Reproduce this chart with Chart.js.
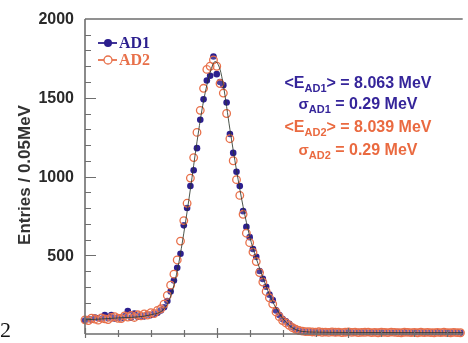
<!DOCTYPE html>
<html>
<head>
<meta charset="utf-8">
<script src="https://cdn.jsdelivr.net/npm/chart.js@4.4.1/dist/chart.umd.min.js"></script>
<style>
html, body { margin: 0; padding: 0; background: #fff; }
#wrap { position: relative; width: 468px; height: 343px; }
</style>
</head>
<body>
<div id="wrap"><canvas id="c"></canvas></div>
<script>
// energy bins: 0.05 MeV wide starting at 6 MeV
const binStart = 6.0;
const binWidth = 0.05;

const ad1Counts = [
  85, 95, 90, 105, 100, 95, 120, 100, 120, 98,
  105, 100, 112, 145, 104, 130, 110, 118, 112, 125,
  120, 128, 135, 150, 170, 210, 270, 340, 420, 510,
  690, 800, 940, 1040, 1180, 1360, 1490, 1610, 1640, 1762,
  1650, 1600, 1580, 1470, 1270, 1150, 1030, 940, 780, 680,
  615, 540, 490, 400, 350, 300, 250, 215, 150, 120,
  95, 80, 65, 45, 28, 20, 16, 14,
  14, 12, 15, 11, 13, 10, 12, 14, 9, 11,
  13, 10, 12, 11, 9, 13, 10, 12, 8, 11,
  10, 12, 9, 10, 11, 8, 10, 12, 9, 11,
  10, 8, 9, 11, 10, 9, 8, 10, 9, 11,
  8, 9, 10, 8, 9, 10, 8
];

const ad2Counts = [
  90, 85, 100, 95, 88, 102, 96, 92, 105, 110,
  100, 98, 115, 108, 118, 105, 122, 115, 128, 120,
  135, 130, 150, 160, 190, 245, 310, 380, 470, 590,
  720, 830, 990, 1120, 1280, 1420, 1560, 1680, 1700, 1740,
  1700, 1590, 1530, 1400, 1240, 1100, 980, 880, 760, 640,
  580, 520, 460, 390, 330, 270, 230, 190, 140, 110,
  85, 70, 55, 40, 30, 22, 18, 15,
  15, 13, 12, 14, 11, 12, 10, 13, 11, 12,
  9, 11, 13, 10, 12, 9, 10, 11, 12, 9,
  10, 8, 11, 10, 9, 12, 10, 9, 8, 11,
  10, 9, 10, 8, 11, 9, 10, 9, 8, 10,
  9, 11, 9, 8, 10, 9, 8
];

// fitted curve drawn through both spectra
const fitEnergy = [6.0, 6.5, 7.0, 7.2, 7.3, 7.4, 7.5, 7.6, 7.7, 7.8, 7.9, 7.975, 8.05, 8.1, 8.2, 8.3, 8.4, 8.5, 8.6, 8.7, 8.8, 8.9, 9.0, 9.1, 9.2, 9.3, 9.5, 10.0, 11.0, 11.8];
const fitCounts = [90, 102, 122, 160, 240, 400, 640, 920, 1220, 1480, 1660, 1730, 1680, 1580, 1300, 1040, 810, 620, 480, 360, 250, 165, 100, 55, 28, 16, 12, 10, 9, 9];

const yTickLabels = [500, 1000, 1500, 2000];
const yMinorTicks = [100, 200, 300, 400, 500, 600, 700, 800, 900, 1000, 1100, 1200, 1300, 1400, 1500, 1600, 1700, 1800, 1900];
const xTicks = [6, 6.5, 7, 7.5, 8, 8.5, 9, 9.5, 10, 10.5, 11, 11.5];
const xMajorTicks = [6, 8, 10];

const blue = '#2c1f8e';
const orange = '#e8704a';
const blueText = '#35259a';
const orangeText = '#ea6a40';

function toPoints(counts) {
  return counts.map((v, i) => ({ x: binStart + i * binWidth, y: v }));
}

// draws a run of text pieces, some of them as subscripts, centred on cx
function drawRich(ctx, pieces, cx, baseline, color) {
  ctx.fillStyle = color;
  ctx.textBaseline = 'alphabetic';
  ctx.textAlign = 'left';
  let total = 0;
  pieces.forEach(p => {
    ctx.font = 'bold ' + p.size + 'px "Liberation Sans", Arial, sans-serif';
    p.w = ctx.measureText(p.t).width;
    total += p.w;
  });
  let x = cx - total / 2;
  pieces.forEach(p => {
    ctx.font = 'bold ' + p.size + 'px "Liberation Sans", Arial, sans-serif';
    ctx.fillText(p.t, x, baseline + (p.dy || 0));
    x += p.w;
  });
}

const decorations = {
  id: 'decorations',
  afterDatasetsDraw(chart) {
    const { ctx, chartArea: a, scales: { x, y } } = chart;
    ctx.save();
    ctx.strokeStyle = '#6e6e6e';
    ctx.lineWidth = 1.6;
    ctx.beginPath();
    ctx.moveTo(a.left, a.top); ctx.lineTo(a.right, a.top);
    ctx.moveTo(a.left, a.top); ctx.lineTo(a.left, a.bottom);
    ctx.moveTo(a.left, a.bottom); ctx.lineTo(a.right, a.bottom);
    ctx.stroke();

    ctx.lineWidth = 1.2;
    ctx.beginPath();
    yMinorTicks.forEach(v => {
      const py = Math.round(y.getPixelForValue(v)) + 0.5;
      const len = v % 500 === 0 ? 11 : 6;
      ctx.moveTo(a.left, py); ctx.lineTo(a.left + len, py);
    });
    xTicks.forEach(v => {
      const px = Math.round(x.getPixelForValue(v)) + 0.5;
      const major = xMajorTicks.includes(v);
      ctx.moveTo(px, a.bottom - (major ? 6 : 4));
      ctx.lineTo(px, a.bottom + (major ? 4 : 3));
    });
    ctx.stroke();

    // y tick labels
    ctx.fillStyle = '#2a2a2a';
    ctx.font = 'bold 16px "Liberation Sans", Arial, sans-serif';
    ctx.textAlign = 'right';
    ctx.textBaseline = 'middle';
    yTickLabels.forEach(v => {
      ctx.fillText(String(v), a.left - 11, y.getPixelForValue(v) + 1);
    });
    ctx.restore();
  },
  afterDraw(chart) {
    const { ctx } = chart;
    ctx.save();

    // y axis title
    ctx.save();
    ctx.translate(25, 175);
    ctx.rotate(-Math.PI / 2);
    ctx.fillStyle = '#333';
    ctx.font = 'bold 17px "Liberation Sans", Arial, sans-serif';
    ctx.textAlign = 'center';
    ctx.textBaseline = 'middle';
    ctx.fillText('Entries / 0.05MeV', 0, 0);
    ctx.restore();

    // legend
    const legend = [
      { label: 'AD1', color: blue, y: 43, filled: true },
      { label: 'AD2', color: orange, y: 60, filled: false }
    ];
    legend.forEach(l => {
      ctx.strokeStyle = l.color;
      ctx.lineWidth = 1.8;
      ctx.beginPath();
      ctx.moveTo(98, l.y); ctx.lineTo(117, l.y);
      ctx.stroke();
      ctx.beginPath();
      ctx.arc(108, l.y, 4, 0, Math.PI * 2);
      if (l.filled) { ctx.fillStyle = l.color; ctx.fill(); }
      else { ctx.fillStyle = '#fff'; ctx.fill(); ctx.lineWidth = 1.3; ctx.stroke(); }
      ctx.fillStyle = l.color;
      ctx.font = 'bold 16px "Liberation Serif", "Times New Roman", serif';
      ctx.textAlign = 'left';
      ctx.textBaseline = 'middle';
      ctx.fillText(l.label, 119, l.y + 1);
    });

    // fit results
    drawRich(ctx, [{ t: '<E', size: 16 }, { t: 'AD1', size: 11, dy: 4 }, { t: '> = 8.063 MeV', size: 16 }], 358, 88, blueText);
    drawRich(ctx, [{ t: 'σ', size: 15 }, { t: 'AD1', size: 11, dy: 4 }, { t: ' = 0.29 MeV', size: 16 }], 358, 109, blueText);
    drawRich(ctx, [{ t: '<E', size: 16 }, { t: 'AD2', size: 11, dy: 4 }, { t: '> = 8.039 MeV', size: 16 }], 358, 132, orangeText);
    drawRich(ctx, [{ t: 'σ', size: 15 }, { t: 'AD2', size: 11, dy: 4 }, { t: ' = 0.29 MeV', size: 16 }], 358, 155, orangeText);

    // stray page number at the lower left
    ctx.fillStyle = '#111';
    ctx.font = '22px "Liberation Serif", "Times New Roman", serif';
    ctx.textAlign = 'left';
    ctx.textBaseline = 'alphabetic';
    ctx.fillText('2', 0, 337);

    ctx.restore();
  }
};

new Chart(document.getElementById('c'), {
  type: 'scatter',
  data: {
    datasets: [
      {
        label: 'fit',
        type: 'line',
        data: fitEnergy.map((e, i) => ({ x: e, y: fitCounts[i] })),
        borderColor: 'rgba(45,55,45,0.85)',
        borderWidth: 1,
        pointRadius: 0,
        cubicInterpolationMode: 'monotone',
        order: 0
      },
      {
        label: 'AD2',
        data: toPoints(ad2Counts),
        showLine: false,
        pointRadius: 3.8,
        pointBackgroundColor: 'rgba(255,255,255,0.15)',
        pointBorderColor: orange,
        pointBorderWidth: 1.3,
        clip: false,
        order: 1
      },
      {
        label: 'AD1',
        data: toPoints(ad1Counts),
        showLine: false,
        pointRadius: 3.3,
        pointBackgroundColor: blue,
        pointBorderColor: blue,
        pointBorderWidth: 0,
        clip: false,
        order: 2
      }
    ]
  },
  options: {
    responsive: true,
    maintainAspectRatio: false,
    animation: false,
    layout: { padding: { top: 19, right: 0, left: 85, bottom: 9 } },
    plugins: { legend: { display: false }, tooltip: { enabled: false } },
    scales: {
      x: { type: 'linear', display: false, min: 6, max: 11.734 },
      y: { display: false, min: 0, max: 2000 }
    }
  },
  plugins: [decorations]
});
</script>
</body>
</html>
